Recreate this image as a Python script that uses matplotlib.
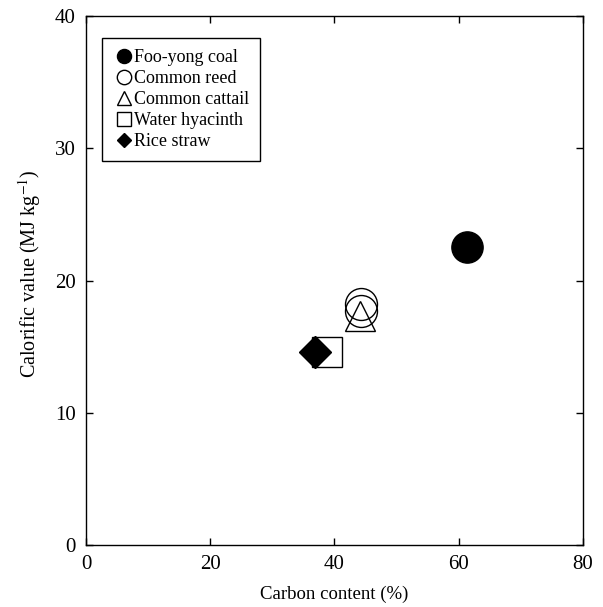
import numpy as np
import matplotlib
matplotlib.use("Agg")
import matplotlib.pyplot as plt

plt.rcParams["font.family"] = ["Liberation Serif", "DejaVu Serif"]
plt.rcParams["mathtext.fontset"] = "stix"

# samples
names = ["Foo-yong coal", "Common reed", "Common reed", "Common cattail",
         "Water hyacinth", "Rice straw"]
carbon = [61.3, 44.2, 44.2, 44.1, 38.8, 36.9]
calorific = [22.5, 18.2, 17.7, 17.3, 14.6, 14.6]
markers = ["o", "o", "o", "^", "s", "D"]
filled = [True, False, False, False, False, True]
sizes = [22.5, 23, 23, 22, 22, 16]

x_ticks = [0, 20, 40, 60, 80]
y_ticks = [0, 10, 20, 30, 40]

fig = plt.figure(figsize=(6.03, 6.07), dpi=100)
ax = fig.add_axes([0.1426, 0.1021, 0.8242, 0.8715])

seen = set()
for name, x, y, m, f, s in zip(names, carbon, calorific, markers, filled, sizes):
    label = None if name in seen else name
    seen.add(name)
    ax.plot([x], [y], linestyle="none", marker=m, markersize=s,
            markerfacecolor="black" if f else "none",
            markeredgecolor="black", markeredgewidth=1.0, label=label)

ax.set_xlim(0, 80)
ax.set_ylim(0, 40)
ax.set_xticks(x_ticks)
ax.set_yticks(y_ticks)
ax.tick_params(direction="in", length=5, width=1, top=True, right=True,
               labelsize=15, pad=7.5)
for sp in ax.spines.values():
    sp.set_linewidth(1.0)

ax.set_xlabel("Carbon content (%)", fontsize=13.5, labelpad=8)
ax.set_ylabel("Calorific value (MJ kg$^{-1}$)", fontsize=14.5, labelpad=8)
ax.yaxis.set_label_coords(-0.087, 0.512)

leg = ax.legend(loc="upper left", bbox_to_anchor=(0.032, 0.958),
                borderaxespad=0, fontsize=13, markerscale=0.45,
                handlelength=1.25, handletextpad=-0.05, labelspacing=0.22,
                fancybox=False, framealpha=1, edgecolor="black",
                borderpad=0.6)
leg.get_frame().set_linewidth(1.0)

fig.savefig("out.png", dpi=100)
